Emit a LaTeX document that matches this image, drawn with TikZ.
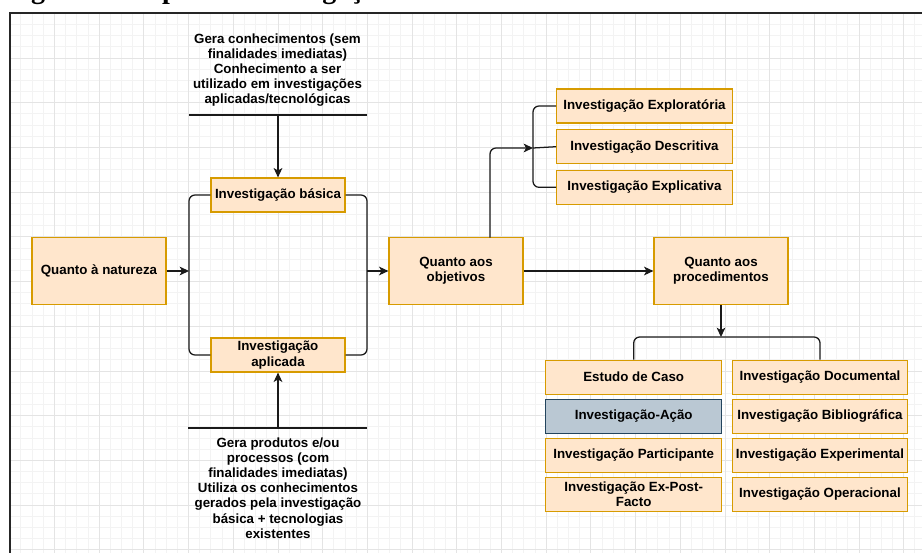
\documentclass[tikz,border=0pt]{standalone}
\usepackage{fontspec}
\setmainfont{Liberation Sans}
\newfontfamily\capfont{Liberation Serif}
\usetikzlibrary{arrows.meta}
\definecolor{boxfill}{HTML}{FFE6CC}
\definecolor{boxdraw}{HTML}{D79B00}
\definecolor{grayfill}{HTML}{BAC8D3}
\definecolor{graydraw}{HTML}{23445D}
\definecolor{gridminor}{HTML}{F3F3F3}
\definecolor{gridmajor}{HTML}{E4E4E4}
\definecolor{linec}{HTML}{1A1A1A}
\begin{document}
\begin{tikzpicture}[x=0.75pt,y=-0.75pt,
  txt/.style={font=\bfseries\fontsize{10}{11.4}\selectfont, align=center, text=black, inner sep=0pt},
  box/.style={txt, draw=boxdraw, fill=boxfill, line width=0.9pt, minimum width=100.5pt, minimum height=25.5pt},
  bigbox/.style={box, minimum height=50.25pt},
  widebox/.style={box, minimum width=131.8pt},
  graybox/.style={widebox, draw=graydraw, fill=grayfill},
  conn/.style={draw=linec, line width=0.95pt, rounded corners=4.5pt},
  arr/.style={conn, -{Stealth[length=7pt,width=6.5pt,inset=1.8pt]}}
]
\useasboundingbox (0,0) rectangle (922,553);
\fill[white] (0,0) rectangle (922,553);
% grid
\foreach \i in {0,...,81} \draw[gridminor, line width=0.6pt] (9.7+\i*11.175,13.3) -- (9.7+\i*11.175,553);
\foreach \i in {0,...,48} \draw[gridminor, line width=0.6pt] (9.7,13.3+\i*11.175) -- (922,13.3+\i*11.175);
\foreach \i in {0,...,20} \draw[gridmajor, line width=0.6pt] (9.7+\i*44.7,13.3) -- (9.7+\i*44.7,553);
\foreach \i in {0,...,12} \draw[gridmajor, line width=0.6pt] (9.7,13.3+\i*44.7) -- (922,13.3+\i*44.7);
% frame
\draw[line width=1.6pt, black!85] (9.7,553) -- (9.7,13.3) -- (922,13.3);
% caption (cut off at the top, as in the reference)
\begin{scope}
\clip (0,0) rectangle (922,12);
\node[anchor=base west, inner sep=0pt, font=\capfont\bfseries\fontsize{21}{24}\selectfont] (cap) at (6,-1.5) {Figura 1 – Tipos de investigação};
\end{scope}

% nodes
\node[txt] (toptxt) at (277.5,70) {Gera conhecimentos (sem\\finalidades imediatas)\\Conhecimento a ser\\utilizado em investigações\\aplicadas/tecnológicas};
\coordinate (tla) at (189,115);
\coordinate (tlb) at (367,115);
\coordinate (tlm) at (278,115);
\node[box] (basic) at (278,195) {Investigação básica};
\node[box] (apl) at (278,355) {Investigação\\aplicada};
\node[bigbox] (nat) at (99,271) {Quanto à natureza};
\coordinate (lbx) at (189,271);
\coordinate (rbx) at (367,271);
\node[bigbox] (obj) at (456,271) {Quanto aos\\objetivos};
\node[bigbox] (proc) at (721,271) {Quanto aos\\procedimentos};
\coordinate (bla) at (188,428);
\coordinate (blb) at (367,428);
\coordinate (blm) at (278,428);
\node[txt] (bottxt) at (278,488) {Gera produtos e/ou\\processos (com\\finalidades imediatas)\\Utiliza os conhecimentos\\gerados pela investigação\\básica + tecnologias\\existentes};

\node[widebox] (expl) at (644.5,106) {Investigação Exploratória};
\node[widebox] (desc) at (644.5,146.7) {Investigação Descritiva};
\node[widebox] (expc) at (644.5,187.3) {Investigação Explicativa};
\coordinate (ob) at (490,237.5);
\coordinate (obx) at (533,148);

\coordinate (pbx) at (721,337);
\node[widebox] (caso) at (633.7,377.2) {Estudo de Caso};
\node[graybox] (acao) at (633.7,416.3) {Investigação-Ação};
\node[widebox] (part) at (633.7,455.5) {Investigação Participante};
\node[widebox] (expf) at (633.7,494.5) {Investigação Ex-Post-\\Facto};
\node[widebox] (doc) at (820,377.2) {Investigação Documental};
\node[widebox] (bib) at (820,416.3) {Investigação Bibliográfica};
\node[widebox] (exper) at (820,455.5) {Investigação Experimental};
\node[widebox] (oper) at (820,494.5) {Investigação Operacional};

% connectors
\draw[conn] (tla) -- (tlb);
\draw[arr] (tlm) -- (basic.north);
\draw[conn] (bla) -- (blb);
\draw[arr] (blm) -- (apl.south);
\draw[conn] (basic.west) -| (lbx) |- (apl.west);
\draw[conn] (basic.east) -| (rbx) |- (apl.east);
\draw[arr] (nat.east) -- (lbx);
\draw[arr] (rbx) -- (obj.west);
\draw[arr] (obj.east) -- (proc.west);
\draw[conn] (expl.west) -| (obx) |- (expc.west);
\draw[conn] (desc.west) -- (obx);
\draw[arr] (ob) |- (obx);
\draw[conn] (caso.north) |- (pbx) -| (doc.north);
\draw[arr] (proc.south) -- (pbx);
\end{tikzpicture}
\end{document}
